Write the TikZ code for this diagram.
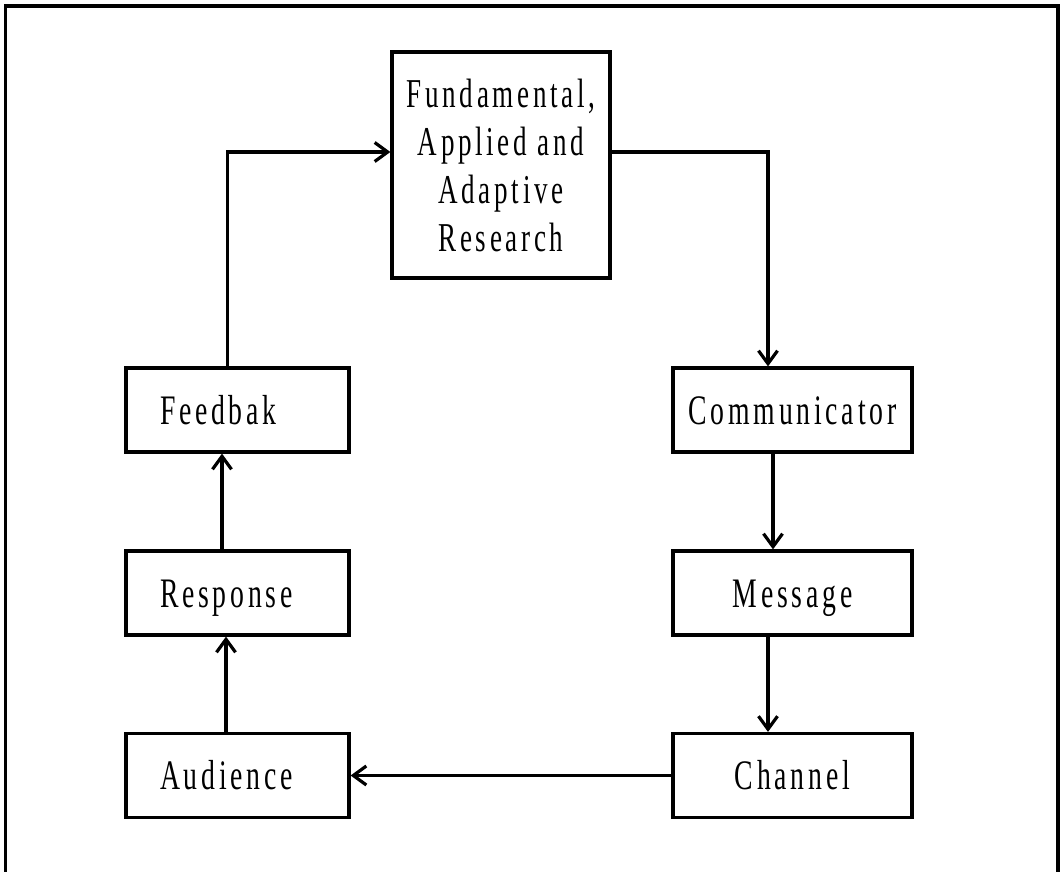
\documentclass[tikz,border=0pt]{standalone}
\usepackage{fontspec}
\setmainfont{Liberation Serif}
\newfontfamily\boxfont[FakeStretch=0.66,LetterSpace=9]{Liberation Serif}
\usetikzlibrary{arrows.meta,calc}

\tikzset{
  frameline/.style={line width=3.2pt},
  stagebox/.style={draw, line width=3.2pt, minimum height=84pt, inner ysep=0pt,
    text height=28pt, text depth=0pt, font=\boxfont\fontsize{42}{50}\selectfont},
  leftbox/.style={stagebox, text width=155pt, inner xsep=34pt, align=left},
  rightbox/.style={stagebox, minimum width=239pt, inner xsep=0pt, align=center},
  headbox/.style={draw, line width=3.2pt, minimum width=218pt, minimum height=226pt,
    inner sep=0pt, align=center, font=\boxfont\fontsize{41}{48}\selectfont},
  link/.style={line width=3.2pt, -{Straight Barb[length=13pt,width=19pt]}},
}

\begin{document}
\begin{tikzpicture}[x=1pt, y=-1pt]
  \useasboundingbox (0,0) rectangle (1061,872);
  % outer frame, open at the bottom
  \draw[frameline] (5.5,872) -- (5.5,6) -- (1058,6) -- (1058,872);

  % research box
  \node[headbox] (top) at (501,165) {Fundamental,\\Applied and\\Adaptive\\Research};

  % left column
  \node[leftbox] (fb)   at (237.5,410)   {Feedbak};
  \node[leftbox] (resp) at (237.5,593)   {Response};
  \node[leftbox] (aud)  at (237.5,775.5) {Audience};

  % right column
  \node[rightbox] (comm) at (792.5,410)   {Communicator};
  \node[rightbox] (msg)  at (792.5,593)   {Message};
  \node[rightbox] (chan) at (792.5,775.5) {Channel};

  % connectors
  \draw[link] ([xshift=-10pt]fb.north) |- ([yshift=13pt]top.west);
  \draw[link] ([yshift=13pt]top.east) -| ([xshift=-24.5pt]comm.north);
  \draw[link] ([xshift=-19.5pt]comm.south) -- ([xshift=-19.5pt]msg.north);
  \draw[link] ([xshift=-24.5pt]msg.south) -- ([xshift=-24.5pt]chan.north);
  \draw[link] (chan.west) -- (aud.east);
  \draw[link] ([xshift=-11.5pt]aud.north) -- ([xshift=-11.5pt]resp.south);
  \draw[link] ([xshift=-15.5pt]resp.north) -- ([xshift=-15.5pt]fb.south);
\end{tikzpicture}
\end{document}
